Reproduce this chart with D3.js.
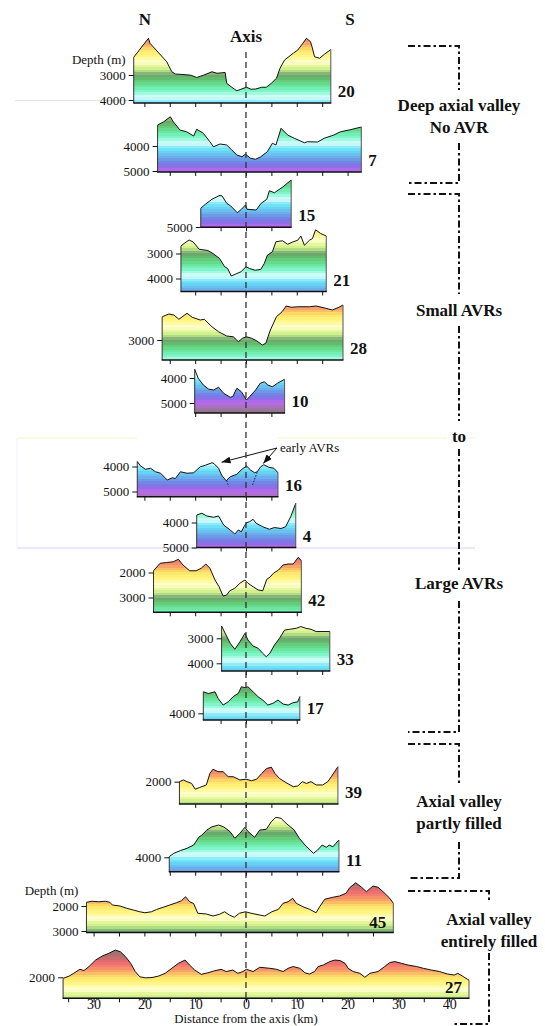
<!DOCTYPE html>
<html lang="en">
<head>
<meta charset="UTF-8">
<title>Axial valley profiles</title>
<script src="https://d3js.org/d3.v7.min.js"></script>
<style>
  body { margin: 0; background: #fff; }
</style>
</head>
<body>
<svg id="chart" width="545" height="1026"></svg>
<script>
// profiles: [distance from axis (km), depth (m)]
const p20 = [[-22.1,2290],[-19.2,1530],[-18.9,1730],[-15.6,2470],[-14.6,2870],[-13.9,2960],[-11.8,2990],[-10.8,3010],[-9.7,3100],[-8.4,3010],[-6.7,2870],[-5.7,2930],[-4.1,2900],[-3.8,3330],[-2.8,3490],[-1.8,3630],[-1.0,3570],[0.1,3490],[1.0,3570],[1.9,3560],[3.1,3490],[4.0,3490],[5.0,3330],[6.0,3130],[6.7,2730],[7.6,2400],[9.3,2130],[10.2,2000],[11.2,1730],[11.9,1530],[12.7,1670],[13.0,1870],[13.5,2270],[14.5,2330],[15.5,2160],[16.7,1980]];
const p7 = [[-17.4,3160],[-16.2,3030],[-14.9,2830],[-14.3,3030],[-13.0,3360],[-11.7,3430],[-10.3,3600],[-9.7,3330],[-8.4,3490],[-7.1,3830],[-6.4,4030],[-5.1,3920],[-3.8,3960],[-2.8,4160],[-1.8,4360],[-0.8,4430],[-0.1,4330],[0.9,4490],[1.9,4530],[2.9,4430],[4.2,4230],[5.2,3890],[5.9,3960],[6.5,3560],[6.9,3290],[8.2,3560],[9.5,3690],[11.5,3870],[12.1,3830],[14.1,3840],[15.4,3690],[17.3,3560],[18.6,3430],[20.5,3350],[22.7,3240]];
const p15 = [[-8.9,4250],[-8.0,4090],[-6.7,3890],[-5.1,3730],[-4.7,3760],[-3.8,4050],[-3.0,4160],[-1.7,4430],[-0.9,4290],[-0.1,4120],[0.2,4290],[2.0,4320],[3.0,4050],[4.1,3890],[4.6,3550],[5.6,3630],[7.3,3390],[8.9,3120]];
const p21 = [[-12.8,2700],[-12.0,2570],[-11.2,2460],[-10.4,2540],[-9.2,2830],[-7.5,2880],[-6.5,3000],[-5.2,3200],[-4.2,3530],[-3.6,3600],[-2.9,3900],[-2.0,3820],[-1.0,3730],[0.0,3530],[0.7,3600],[1.8,3670],[2.9,3640],[3.6,3400],[4.2,3070],[5.2,2930],[5.9,2530],[7.2,2490],[8.2,2630],[9.2,2540],[10.2,2470],[10.8,2300],[11.5,2670],[12.5,2470],[13.1,2400],[13.7,2050],[14.7,2200],[15.8,2300]];
const p28 = [[-16.5,2070],[-15.2,1960],[-14.2,2000],[-13.2,2170],[-11.6,1930],[-10.6,2090],[-9.0,2200],[-8.2,2170],[-6.7,2470],[-5.4,2670],[-3.8,2840],[-2.5,2870],[-1.5,3070],[-0.7,2930],[0.1,2870],[1.1,2930],[2.1,3030],[3.2,3200],[3.9,3130],[4.8,2600],[6.0,2070],[7.1,1870],[7.9,1640],[8.9,1690],[10.2,1670],[12.5,1670],[13.8,1640],[15.7,1730],[17.0,1800],[18.3,1690],[19.1,1600]];
const p10 = [[-10.1,3650],[-9.4,4010],[-8.4,4280],[-7.4,4440],[-6.4,4480],[-5.4,4370],[-4.4,4610],[-3.1,4770],[-2.6,4740],[-1.8,4410],[-0.9,4550],[0.1,4880],[0.7,4750],[1.9,4480],[2.8,4210],[3.6,4150],[4.3,4280],[5.2,4350],[6.2,4210],[7.6,4050]];
const p16 = [[-21.4,3800],[-20.8,3970],[-19.8,4110],[-18.8,4070],[-17.8,4210],[-16.8,4270],[-15.5,4540],[-14.5,4450],[-13.9,4480],[-12.9,4210],[-11.6,4270],[-10.3,4250],[-9.0,4010],[-8.0,3950],[-6.7,3850],[-6.3,3880],[-5.4,4070],[-4.8,4340],[-3.9,4570],[-3.1,4410],[-1.8,4310],[-0.8,4110],[0.1,3980],[0.9,4140],[1.7,4250],[2.2,4210],[2.9,4010],[3.5,3930],[4.5,4030],[5.5,4070],[6.3,4250]];
const p4 = [[-9.7,3700],[-8.7,3630],[-7.7,3740],[-6.4,3790],[-5.4,3740],[-4.4,4100],[-3.1,4300],[-2.2,4460],[-1.5,4300],[-0.9,4370],[-0.4,4170],[0.1,4010],[0.7,3970],[1.4,3870],[2.0,4030],[3.3,4170],[4.6,4270],[5.6,4200],[6.9,4240],[7.8,4170],[8.8,3770],[9.8,3230]];
const p42 = [[-18.2,1930],[-16.9,1630],[-15.6,1600],[-14.3,1570],[-13.3,1470],[-12.4,1700],[-11.1,1930],[-9.8,1930],[-8.8,1830],[-7.9,1660],[-7.1,1830],[-6.1,2300],[-5.3,2570],[-4.5,2940],[-3.8,2900],[-3.2,2730],[-2.2,2630],[-1.2,2430],[-0.2,2300],[0.4,2430],[1.4,2570],[2.4,2700],[3.3,2730],[4.1,2270],[4.7,2190],[5.4,2030],[6.4,1900],[7.3,1700],[8.3,1660],[9.3,1660],[10.3,1390],[10.9,1530]];
const p33 = [[-4.8,2510],[-4.1,2800],[-3.1,3200],[-2.2,3440],[-1.2,3140],[-0.2,2800],[0.4,3070],[1.4,3310],[2.4,3400],[3.3,3600],[4.0,3740],[4.7,3600],[5.6,3270],[6.6,3000],[7.6,2670],[8.6,2640],[9.9,2600],[10.8,2530],[11.8,2600],[12.8,2640],[13.8,2730],[16.5,2730]];
const p17 = [[-8.4,3140],[-7.4,3210],[-6.1,3140],[-5.5,3400],[-4.5,3670],[-3.5,3540],[-2.5,3330],[-1.5,3200],[-0.9,2940],[-0.2,2970],[0.4,2940],[1.4,3140],[2.4,3340],[3.3,3470],[4.3,3670],[5.3,3600],[6.3,3470],[7.3,3630],[8.3,3670],[9.2,3580],[10.2,3540],[10.6,3330]];
const p39 = [[-13.1,2000],[-12.3,1930],[-11.6,2000],[-10.7,2070],[-10.0,2300],[-9.1,2230],[-7.8,2130],[-7.1,1670],[-6.5,1500],[-5.5,1600],[-4.5,1600],[-3.5,1800],[-2.5,1800],[-1.2,1930],[0.0,1900],[1.1,1960],[2.1,1900],[3.1,1670],[4.1,1470],[5.0,1420],[5.7,1670],[6.6,1870],[7.9,2040],[9.3,2200],[10.2,2170],[11.1,2000],[11.9,2070],[12.8,2000],[13.8,2130],[15.1,2130],[16.1,2000],[16.8,1800],[18.1,1400]];
const p11 = [[-15.1,3970],[-14.2,3840],[-12.9,3730],[-11.6,3640],[-10.3,3510],[-9.3,3200],[-8.7,3110],[-7.7,2910],[-6.7,2780],[-5.4,2710],[-4.4,2780],[-3.1,2980],[-2.2,3240],[-1.2,3040],[-0.2,2800],[0.4,2970],[1.7,3200],[2.7,2910],[4.0,2880],[5.0,2570],[5.9,2400],[6.9,2440],[7.9,2640],[9.5,2910],[10.5,3240],[11.8,3550],[13.3,3840],[14.1,3710],[15.0,3510],[15.8,3600],[16.4,3510],[17.1,3580],[17.7,3440],[18.3,3310]];
const p45 = [[-31.4,1850],[-30.3,1810],[-29.0,1830],[-27.7,1810],[-26.8,1850],[-26.3,1960],[-24.8,2000],[-23.5,2090],[-22.2,2160],[-20.9,2230],[-19.9,2270],[-18.6,2230],[-17.6,2140],[-16.3,2050],[-15.0,1960],[-13.7,1870],[-12.7,1790],[-11.9,1630],[-11.1,1830],[-10.3,1900],[-9.5,2290],[-7.8,2320],[-6.5,2400],[-5.2,2330],[-4.2,2230],[-3.3,2360],[-2.3,2450],[-1.3,2290],[-0.1,2230],[1.0,2290],[2.7,2360],[3.7,2400],[5.1,2230],[6.4,2130],[7.3,1890],[8.3,1830],[9.2,1690],[9.9,1890],[11.2,2030],[12.5,2130],[13.8,2270],[14.5,2030],[15.5,1730],[17.1,1650],[18.4,1600],[19.7,1490],[20.4,1270],[21.6,1070],[22.7,1240],[23.7,1430],[25.0,1200],[26.0,1250],[27.0,1430],[28.3,1690],[29.0,1890]];
const p27 = [[-36.0,2040],[-34.8,1950],[-33.9,1840],[-32.7,1680],[-31.9,1730],[-30.9,1570],[-29.6,1310],[-28.3,1150],[-27.0,1040],[-25.7,910],[-24.7,980],[-23.7,1180],[-22.7,1440],[-21.8,1770],[-20.9,1980],[-19.8,2020],[-18.5,2010],[-17.2,1950],[-15.9,1840],[-14.6,1640],[-13.3,1440],[-12.0,1310],[-11.1,1510],[-10.1,1710],[-8.8,1880],[-7.5,1820],[-6.2,1740],[-4.9,1680],[-3.9,1770],[-2.6,1710],[-1.6,1840],[-0.6,1770],[0.1,1680],[1.4,1770],[2.7,1600],[4.7,1640],[6.0,1680],[7.3,1770],[8.3,1640],[9.3,1570],[10.6,1640],[11.6,1820],[12.5,1870],[13.5,1770],[14.2,1570],[15.2,1510],[16.5,1370],[17.5,1310],[18.5,1330],[19.5,1440],[20.1,1640],[21.1,1770],[22.4,1840],[23.4,2000],[24.4,1840],[26.0,1770],[27.3,1570],[28.3,1410],[29.3,1370],[30.6,1440],[31.9,1510],[33.6,1570],[34.9,1640],[36.5,1710],[38.1,1770],[39.7,1870],[41.0,1910],[41.7,1840],[42.6,1950],[43.6,2080],[43.9,2110]];

// early AVR marks on profile 16
const avrDotted = [[[-3.8,4560],[-3.4,4800]], [[2.2,4230],[1.3,4740]]];
const avrArrowTail = [6.1, 3260];
const avrArrowTips = [[-4.8,3830],[3.4,3880]];

// group labels
const groupTexts = [
  {lines: ["Deep axial valley", "No AVR"], y: 111, x: 459},
  {lines: ["Small AVRs"], y: 316, x: 459},
  {lines: ["to"], y: 442, x: 459},
  {lines: ["Large AVRs"], y: 589, x: 459},
  {lines: ["Axial valley", "partly filled"], y: 807, x: 459},
  {lines: ["Axial valley", "entirely filled"], y: 925, x: 489}
];

// depth colour palette
const paletteDepths = [800, 1000, 1150, 1300, 1450, 1600, 1800, 1900, 2000, 2200, 2400, 2500, 2600, 2800, 2900, 3000, 3100, 3300, 3500, 3700, 3850, 3900, 4000, 4200, 4400, 4600, 4800, 5000, 5200, 5400];
const paletteColors = ["#8a7a7a", "#9a7272", "#b46e6e", "#d86c6c", "#ee7070", "#f6866a", "#faae66", "#fccc66", "#fde468", "#fff47c", "#fffcb0", "#ffffe0", "#eefaa0", "#c8ec88", "#9ccc80", "#72a070", "#62b468", "#64d480", "#6cecac", "#88f8d4", "#ccfff4", "#eeffff", "#9cf0fc", "#64dcf6", "#6cb8ee", "#6c8ee6", "#8270e6", "#bc68ee", "#a474b4", "#8c7480"];

// panel layout: reference tick [depth, px], base depth of panel
const panels = [
  {id: "20", data: p20, ref: [3000, 75], base: 4120, yTicks: [3000, 4000], depthLabel: true},
  {id: "7", data: p7, ref: [4000, 146], base: 5040, yTicks: [4000, 5000]},
  {id: "15", data: p15, ref: [5000, 227], base: 5010, yTicks: [5000]},
  {id: "21", data: p21, ref: [3000, 253.5], base: 4520, yTicks: [3000, 4000]},
  {id: "28", data: p28, ref: [3000, 340], base: 3800, yTicks: [3000]},
  {id: "10", data: p10, ref: [4000, 378], base: 5400, yTicks: [4000, 5000]},
  {id: "16", data: p16, ref: [4000, 466.5], base: 5210, yTicks: [4000, 5000]},
  {id: "4", data: p4, ref: [4000, 522.5], base: 5000, yTicks: [4000, 5000]},
  {id: "42", data: p42, ref: [2000, 572.5], base: 3590, yTicks: [2000, 3000]},
  {id: "33", data: p33, ref: [3000, 638.3], base: 4310, yTicks: [3000, 4000]},
  {id: "17", data: p17, ref: [4000, 713.3], base: 4270, yTicks: [4000]},
  {id: "39", data: p39, ref: [2000, 781.7], base: 2890, yTicks: [2000]},
  {id: "11", data: p11, ref: [4000, 857.3], base: 4580, yTicks: [4000]},
  {id: "45", data: p45, ref: [2000, 906], base: 3060, yTicks: [2000, 3000], depthLabel: true, inside: true},
  {id: "27", data: p27, ref: [2000, 977.3], base: 2840, yTicks: [2000], inside: true, xLabels: true}
];

const FONT = "'Liberation Serif', 'Times New Roman', 'DejaVu Serif', serif";

const svg = d3.select("#chart");
const defs = svg.append("defs");

const xScale = d3.scaleLinear().domain([-36, 44]).range([63.1, 469.5]);
const colour = d3.scaleLinear().domain(paletteDepths).range(paletteColors).clamp(true);

defs.append("marker")
    .attr("id", "arrow")
    .attr("markerUnits", "userSpaceOnUse")
    .attr("markerWidth", 9).attr("markerHeight", 7)
    .attr("refX", 9).attr("refY", 3.5)
    .attr("orient", "auto")
    .append("path").attr("d", "M0,0 L9,3.5 L0,7 z").attr("fill", "#111");

// faint scan lines in the original figure
const faint = svg.append("g").attr("stroke-width", 1);
faint.append("line").attr("x1", 15).attr("x2", 133).attr("y1", 100.5).attr("y2", 100.5).attr("stroke", "#e4e4e4");
[[17, 137], [278, 447], [467, 474]].forEach(s => {
    faint.append("line").attr("x1", s[0]).attr("x2", s[1]).attr("y1", 438).attr("y2", 438).attr("stroke", "#eef6c8");
});
faint.append("line").attr("x1", 17).attr("x2", 475).attr("y1", 548).attr("y2", 548).attr("stroke", "#e2c8fa");
faint.append("line").attr("x1", 17).attr("x2", 17).attr("y1", 438).attr("y2", 548).attr("stroke", "#f0f0fa");

panels.forEach(p => {
    const y = d3.scaleLinear().domain([p.ref[0], p.ref[0] + 1000]).range([p.ref[1], p.ref[1] + 25]);
    const data = p.data;
    const k0 = data[0][0], k1 = data[data.length - 1][0];
    const yBase = y(p.base);
    const g = svg.append("g");

    // banded colour by depth (100 m steps)
    const grad = defs.append("linearGradient")
        .attr("id", "grad" + p.id)
        .attr("gradientUnits", "userSpaceOnUse")
        .attr("x1", 0).attr("x2", 0)
        .attr("y1", y(700)).attr("y2", y(5700));
    d3.range(700, 5700, 100).forEach(d => {
        const c = colour(d + 50);
        grad.append("stop").attr("offset", (d - 700) / 5000).attr("stop-color", c);
        grad.append("stop").attr("offset", (d + 100 - 700) / 5000).attr("stop-color", c);
    });

    g.append("path").datum(data)
        .attr("d", d3.area().x(d => xScale(d[0])).y0(yBase).y1(d => y(d[1])))
        .attr("fill", `url(#grad${p.id})`);

    g.append("path").datum(data)
        .attr("d", d3.line().x(d => xScale(d[0])).y(d => y(d[1])))
        .attr("fill", "none").attr("stroke", "#111").attr("stroke-width", 1);

    g.append("line").attr("x1", xScale(k0)).attr("x2", xScale(k0))
        .attr("y1", y(data[0][1])).attr("y2", yBase).attr("stroke", "#333");
    g.append("line").attr("x1", xScale(k1)).attr("x2", xScale(k1))
        .attr("y1", y(data[data.length - 1][1])).attr("y2", yBase).attr("stroke", "#555");

    // distance axis
    const xt = d3.range(Math.ceil(k0 / 5) * 5, k1 + 1e-6, 5);
    const ax = d3.axisBottom(xScale).tickValues(xt).tickSize(4).tickSizeOuter(0).tickPadding(0)
        .tickFormat(d => p.xLabels && d % 10 === 0 ? Math.abs(d) : "");
    const axG = g.append("g").attr("transform", `translate(0,${yBase})`).call(ax);
    axG.select(".domain").remove();
    axG.selectAll("line").attr("stroke", "#111");
    axG.selectAll("text").attr("dy", "0.45em");
    axG.attr("font-size", 14);
    g.append("line").attr("x1", xScale(k0) - 0.5).attr("x2", xScale(k1) + 0.5)
        .attr("y1", yBase).attr("y2", yBase).attr("stroke", "#111").attr("stroke-width", 1.6);

    // depth axis
    const ay = d3.axisLeft(y).tickValues(p.yTicks).tickSize(5).tickPadding(3).tickFormat(d3.format("d"));
    const ayG = g.append("g").attr("transform", `translate(${xScale(k0)},0)`).call(ay);
    ayG.select(".domain").remove();
    ayG.selectAll("line").attr("stroke", "#111");
    ayG.attr("font-size", 13);

    if (p.depthLabel) {
        g.append("text").attr("x", xScale(k0) - 8).attr("y", y(p.yTicks[0]) - 11)
            .attr("text-anchor", "end").attr("font-size", 13).text("Depth (m)");
    }

    const lab = g.append("text").attr("font-size", 17).attr("font-weight", "bold").text(p.id);
    if (p.inside) {
        lab.attr("x", xScale(k1) - 7).attr("y", yBase - 5).attr("text-anchor", "end");
    } else {
        lab.attr("x", xScale(k1) + 7).attr("y", yBase - 6);
    }

    if (p.id === "16") {
        avrDotted.forEach(seg => {
            g.append("path").datum(seg)
                .attr("d", d3.line().x(d => xScale(d[0])).y(d => y(d[1])))
                .attr("stroke", "#222").attr("stroke-width", 1).attr("stroke-dasharray", "1.5,1.5").attr("fill", "none");
        });
        avrArrowTips.forEach(t => {
            g.append("line")
                .attr("x1", xScale(avrArrowTail[0])).attr("y1", y(avrArrowTail[1]))
                .attr("x2", xScale(t[0])).attr("y2", y(t[1]))
                .attr("stroke", "#111").attr("stroke-width", 1).attr("marker-end", "url(#arrow)");
        });
        g.append("text").attr("x", xScale(avrArrowTail[0]) + 3).attr("y", y(avrArrowTail[1]) + 4)
            .attr("font-size", 13).text("early AVRs");
    }
});

// dashed axis line
svg.append("line")
    .attr("x1", xScale(0)).attr("x2", xScale(0)).attr("y1", 52).attr("y2", 1001)
    .attr("stroke", "#333").attr("stroke-width", 1.3).attr("stroke-dasharray", "6,4");

// headings
svg.append("text").attr("x", 145).attr("y", 25).attr("text-anchor", "middle")
    .attr("font-size", 17).attr("font-weight", "bold").text("N");
svg.append("text").attr("x", 350).attr("y", 25).attr("text-anchor", "middle")
    .attr("font-size", 17).attr("font-weight", "bold").text("S");
svg.append("text").attr("x", xScale(0)).attr("y", 42).attr("text-anchor", "middle")
    .attr("font-size", 17).attr("font-weight", "bold").text("Axis");
svg.append("text").attr("x", 246).attr("y", 1023.2).attr("text-anchor", "middle")
    .attr("font-size", 12.8).text("Distance from the axis (km)");

// group brackets (dash-dot)
const bracketPaths = [
    "M408,46 H459 V90", "M459,143 V183 H408",
    "M408,194 H459 V294", "M459,326 V421", "M459,449 V571", "M459,601 V732 H408",
    "M408,744 H459 V786", "M459,842 V878 H408",
    "M408,891 H489 V903", "M489,953 V1024 H453"
];
svg.append("g").selectAll("path").data(bracketPaths).join("path")
    .attr("d", d => d)
    .attr("fill", "none").attr("stroke", "#111").attr("stroke-width", 2)
    .attr("stroke-dasharray", "7,3,2.5,3");

groupTexts.forEach(t => {
    const txt = svg.append("text").attr("text-anchor", "middle").attr("font-size", 17).attr("font-weight", "bold");
    t.lines.forEach((l, i) => {
        txt.append("tspan").attr("x", t.x).attr("y", t.y + i * 22).text(l);
    });
});

// serif type everywhere, overriding the axis defaults
svg.selectAll("g").filter(function() { return this.hasAttribute("font-family"); }).attr("font-family", null);
svg.selectAll("text").style("font-family", FONT).style("fill", "#111");
</script>
</body>
</html>
